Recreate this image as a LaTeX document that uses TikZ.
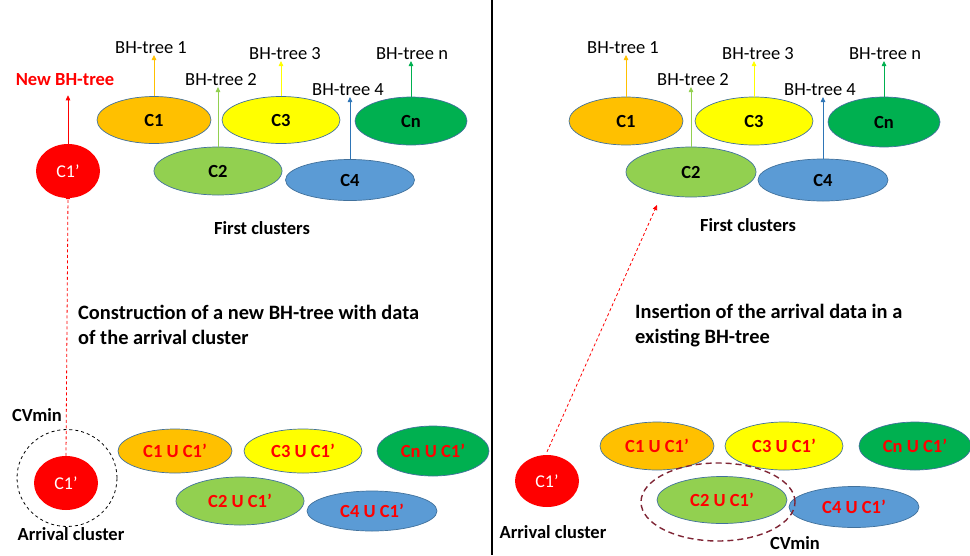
\documentclass[tikz,border=0pt]{standalone}
\usepackage{fontspec}
\setmainfont{Carlito}
\usetikzlibrary{shapes.geometric,arrows.meta}
\definecolor{cOrange}{HTML}{FFC000}
\definecolor{cYellow}{HTML}{FFFF00}
\definecolor{cDkGreen}{HTML}{00B050}
\definecolor{cLtGreen}{HTML}{92D050}
\definecolor{cBlue}{HTML}{5B9BD5}
\definecolor{cEdge}{HTML}{41719C}
\definecolor{cArrBlue}{HTML}{2E75B6}
\definecolor{cWine}{HTML}{7F2535}
\tikzset{
  clu/.style={ellipse, draw=cEdge, line width=0.7pt, inner sep=0pt,
    font=\fontsize{18.5}{20}\selectfont\bfseries},
  uni/.style={clu, text=red, font=\fontsize{18.5}{20}\selectfont\bfseries},
  arr/.style={ellipse, fill=red, draw=none, inner sep=0pt,
    minimum width=64pt, minimum height=54pt,
    text=white, font=\fontsize{18}{20}\selectfont},
  tlab/.style={font=\fontsize{18.5}{20}\selectfont, inner sep=1pt, anchor=south},
  head/.style={font=\fontsize{20.4}{25}\selectfont\bfseries, align=left, anchor=north west, inner sep=0pt},
  captxt/.style={font=\fontsize{18.5}{20}\selectfont\bfseries, inner sep=0pt},
  up/.style={line width=0.8pt, -{Triangle[length=5pt,width=4.5pt]}},
  reddash/.style={red, line width=0.8pt, dash pattern=on 3pt off 2.5pt,
    -{Triangle[length=5pt,width=4.5pt]}},
}
\begin{document}
\begin{tikzpicture}[x=1pt,y=-1pt]
\useasboundingbox (0,0) rectangle (970,555);

% divider between the two panels
\draw[line width=1.6pt] (492,0) -- (492,555);

% ---------------- left panel ----------------
\node[clu, fill=cOrange, minimum width=114pt, minimum height=47pt] (l1) at (154,120) {C1};
\node[clu, fill=cYellow, minimum width=118pt, minimum height=47pt] (l3) at (281,120) {C3};
\node[clu, fill=cDkGreen, minimum width=112pt, minimum height=48pt] (ln) at (411,121) {Cn};
\node[clu, fill=cLtGreen, minimum width=128pt, minimum height=48pt] (l2) at (218,171) {C2};
\node[clu, fill=cBlue, minimum width=129pt, minimum height=41pt] (l4) at (350,180) {C4};
\node[arr] (lnew) at (68,171) {C1’};

\node[tlab] (lt1) at (151,55) {BH-tree 1};
\node[tlab] (lt2) at (221,87) {BH-tree 2};
\node[tlab] (lt3) at (285,61) {BH-tree 3};
\node[tlab] (lt4) at (348,97) {BH-tree 4};
\node[tlab] (ltn) at (412,61) {BH-tree n};
\node[captxt, text=red] (ltnew) at (65,80) {New BH-tree};

\draw[up, cOrange] (l1.north) -- (l1.north |- lt1.south);
\draw[up, cLtGreen] (l2.north) -- (l2.north |- lt2.south);
\draw[up, cYellow] (l3.north) -- (l3.north |- lt3.south);
\draw[up, cArrBlue] (l4.north) -- (l4.north |- lt4.south);
\draw[up, cDkGreen] (ln.north) -- (ln.north |- ltn.south);
\draw[up, red] (lnew.north) -- ([yshift=-9pt]lnew.north |- ltnew.south);

\node[captxt] (lfirst) at (262,228) {First clusters};
\node[head] (lhead) at (78,305) {Construction of a new BH-tree with data\\of the arrival cluster};

\node[uni, fill=cOrange, minimum width=114pt, minimum height=44pt] (lu1) at (175,451) {C1 U C1’};
\node[uni, fill=cYellow, minimum width=118pt, minimum height=44pt] (lu3) at (303,451) {C3 U C1’};
\node[uni, fill=cDkGreen, minimum width=112pt, minimum height=50pt] (lun) at (433,451) {Cn U C1’};
\node[uni, fill=cLtGreen, minimum width=128pt, minimum height=48pt] (lu2) at (240,501) {C2 U C1’};
\node[uni, fill=cBlue, minimum width=130pt, minimum height=40pt] (lu4) at (372,511) {C4 U C1’};

\node[arr] (larr) at (66,483) {C1’};
\node[ellipse, draw, dashed, line width=0.8pt, minimum width=100pt, minimum height=97pt, inner sep=0pt] (lcv) at (67,478) {};
\node[captxt] (lcvmin) at (37,415) {CVmin};
\node[captxt] (larrlab) at (71,534) {Arrival cluster};

\draw[reddash] (larr.north) -- ([yshift=4pt]lnew.south);

% ---------------- right panel ----------------
\node[clu, fill=cOrange, minimum width=114pt, minimum height=48pt] (r1) at (626,121) {C1};
\node[clu, fill=cYellow, minimum width=118pt, minimum height=48pt] (r3) at (754,121) {C3};
\node[clu, fill=cDkGreen, minimum width=112pt, minimum height=50pt] (rn) at (884,122) {Cn};
\node[clu, fill=cLtGreen, minimum width=130pt, minimum height=50pt] (r2) at (691,172) {C2};
\node[clu, fill=cBlue, minimum width=130pt, minimum height=42pt] (r4) at (823,180) {C4};

\node[tlab] (rt1) at (623,55) {BH-tree 1};
\node[tlab] (rt2) at (693,87) {BH-tree 2};
\node[tlab] (rt3) at (758,61) {BH-tree 3};
\node[tlab] (rt4) at (820,97) {BH-tree 4};
\node[tlab] (rtn) at (885,61) {BH-tree n};

\draw[up, cOrange] (r1.north) -- (r1.north |- rt1.south);
\draw[up, cLtGreen] (r2.north) -- (r2.north |- rt2.south);
\draw[up, cYellow] (r3.north) -- (r3.north |- rt3.south);
\draw[up, cArrBlue] (r4.north) -- (r4.north |- rt4.south);
\draw[up, cDkGreen] (rn.north) -- (rn.north |- rtn.south);

\node[captxt] (rfirst) at (748,225) {First clusters};
\node[head] (rhead) at (635,304) {Insertion of the arrival data in a\\existing BH-tree};

\node[uni, fill=cOrange, minimum width=114pt, minimum height=48pt] (ru1) at (657,446) {C1 U C1’};
\node[uni, fill=cYellow, minimum width=118pt, minimum height=48pt] (ru3) at (784,446) {C3 U C1’};
\node[uni, fill=cDkGreen, minimum width=112pt, minimum height=48pt] (run) at (915,446) {Cn U C1’};
\node[uni, fill=cLtGreen, minimum width=130pt, minimum height=47pt] (ru2) at (722,500) {C2 U C1’};
\node[uni, fill=cBlue, minimum width=130pt, minimum height=41pt] (ru4) at (854,507) {C4 U C1’};

\node[ellipse, draw=cWine, line width=1.4pt, dash pattern=on 6pt off 4pt, minimum width=154pt, minimum height=78pt, inner sep=0pt] (rcv) at (718,502) {};
\node[captxt] (rcvmin) at (795,543) {CVmin};

\node[arr, minimum height=52pt] (rarr) at (547,481) {C1’};
\node[captxt] (rarrlab) at (553,532) {Arrival cluster};
\coordinate (rtip) at (657,205);
\draw[reddash] ([yshift=3pt]rarr.north) -- (rtip);

\end{tikzpicture}
\end{document}
